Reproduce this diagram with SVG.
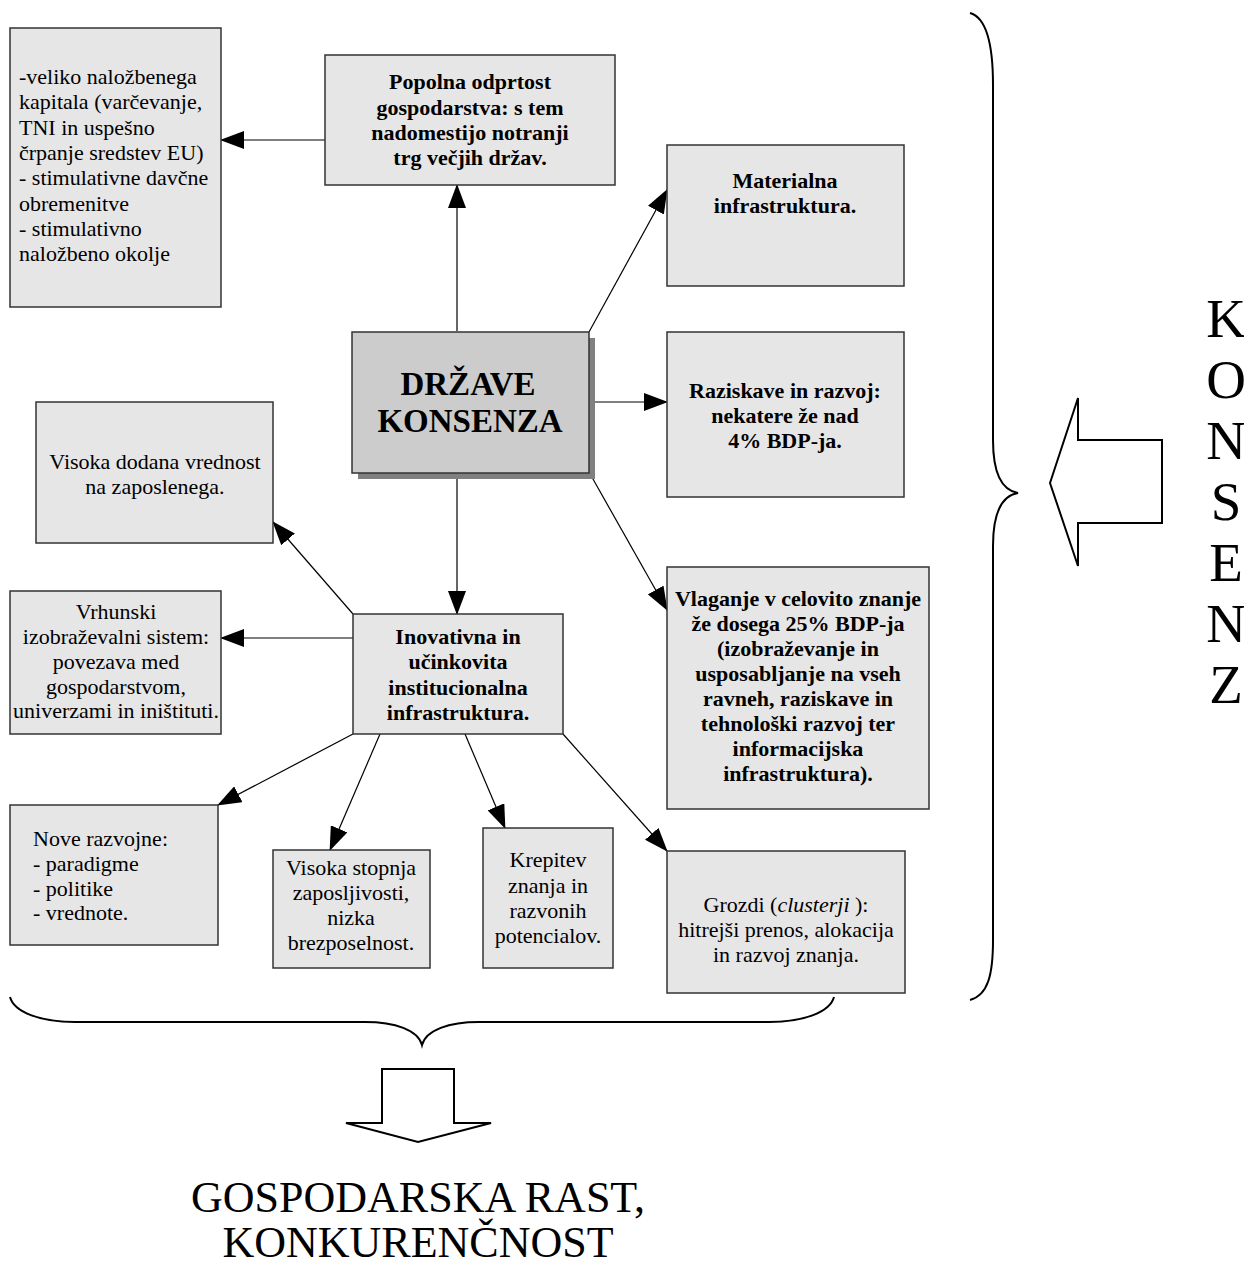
<svg xmlns="http://www.w3.org/2000/svg" width="1244" height="1266" viewBox="0 0 1244 1266">
<defs>
<marker id="ah" markerUnits="userSpaceOnUse" markerWidth="24" markerHeight="18" viewBox="0 0 24 18" refX="23" refY="9" orient="auto">
<path d="M0,0 L24,9 L0,18 Z" fill="#000"/>
</marker>
</defs>
<style>
.box{fill:#e6e6e6;stroke:#333;stroke-width:1.5}
.t{font-family:"Liberation Serif","Times New Roman",serif;font-size:22px;fill:#000}
.b{font-weight:bold}
.c{text-anchor:middle}
.k{font-size:55px}
.con line{stroke:#000;stroke-width:1.2;marker-end:url(#ah)}
.shape{fill:none;stroke:#000;stroke-width:2}
</style>
<rect width="1244" height="1266" fill="#fff"/>

<g id="connectors" class="con">
<line x1="325" y1="140" x2="221" y2="140"/>
<line x1="457" y1="331" x2="457" y2="185"/>
<line x1="589" y1="332" x2="667" y2="190"/>
<line x1="589" y1="402" x2="667" y2="402"/>
<line x1="589" y1="472" x2="667" y2="610"/>
<line x1="457" y1="472" x2="457" y2="614"/>
<line x1="353" y1="614" x2="273" y2="522"/>
<line x1="353" y1="638" x2="221" y2="638"/>
<line x1="353" y1="734" x2="218" y2="805"/>
<line x1="380" y1="734" x2="330" y2="850"/>
<line x1="465" y1="734" x2="505" y2="828"/>
<line x1="563" y1="734" x2="667" y2="851"/>
</g>

<g id="n-kapital">
<rect class="box" x="10" y="28" width="211" height="279"/>
<text class="t" x="19" y="84">-veliko naložbenega</text>
<text class="t" x="19" y="109">kapitala (varčevanje,</text>
<text class="t" x="19" y="135">TNI in uspešno</text>
<text class="t" x="19" y="160">črpanje sredstev EU)</text>
<text class="t" x="19" y="185">- stimulativne davčne</text>
<text class="t" x="19" y="211">obremenitve</text>
<text class="t" x="19" y="236">- stimulativno</text>
<text class="t" x="19" y="261">naložbeno okolje</text>
</g>

<g id="n-popolna">
<rect class="box" x="325" y="55" width="290" height="130"/>
<text class="t b c" x="470" y="89">Popolna odprtost</text>
<text class="t b c" x="470" y="115">gospodarstva: s tem</text>
<text class="t b c" x="470" y="140">nadomestijo notranji</text>
<text class="t b c" x="470" y="165">trg večjih držav.</text>
</g>

<g id="n-drzave">
<rect x="358" y="338" width="237" height="141" fill="#808080"/>
<rect x="352" y="332" width="237" height="141" fill="#cccccc" stroke="#333" stroke-width="1.5"/>
<text class="t b c" x="468" y="395" style="font-size:33px">DRŽAVE</text>
<text class="t b c" x="470" y="432" style="font-size:33px">KONSENZA</text>
</g>

<g id="n-materialna">
<rect class="box" x="667" y="145" width="237" height="141"/>
<text class="t b c" x="785" y="188">Materialna</text>
<text class="t b c" x="785" y="213">infrastruktura.</text>
</g>

<g id="n-raziskave">
<rect class="box" x="667" y="332" width="237" height="165"/>
<text class="t b c" x="785" y="398">Raziskave in razvoj:</text>
<text class="t b c" x="785" y="423">nekatere že nad</text>
<text class="t b c" x="785" y="448">4% BDP-ja.</text>
</g>

<g id="n-vlaganje">
<rect class="box" x="667" y="567" width="262" height="242"/>
<text class="t b c" x="798" y="606">Vlaganje v celovito znanje</text>
<text class="t b c" x="798" y="631">že dosega 25% BDP-ja</text>
<text class="t b c" x="798" y="656">(izobraževanje in</text>
<text class="t b c" x="798" y="681">usposabljanje na vseh</text>
<text class="t b c" x="798" y="706">ravneh, raziskave in</text>
<text class="t b c" x="798" y="731">tehnološki razvoj ter</text>
<text class="t b c" x="798" y="756">informacijska</text>
<text class="t b c" x="798" y="781">infrastruktura).</text>
</g>

<g id="n-visoka-dodana">
<rect class="box" x="36" y="402" width="237" height="141"/>
<text class="t c" x="155" y="469">Visoka dodana vrednost</text>
<text class="t c" x="155" y="494">na zaposlenega.</text>
</g>

<g id="n-vrhunski">
<rect class="box" x="10" y="591" width="211" height="143"/>
<text class="t c" x="116" y="619">Vrhunski</text>
<text class="t c" x="116" y="644">izobraževalni sistem:</text>
<text class="t c" x="116" y="669">povezava med</text>
<text class="t c" x="116" y="694">gospodarstvom,</text>
<text class="t c" x="116" y="718">univerzami in iništituti.</text>
</g>

<g id="n-inovativna">
<rect class="box" x="353" y="614" width="210" height="120"/>
<text class="t b c" x="458" y="644">Inovativna in</text>
<text class="t b c" x="458" y="669">učinkovita</text>
<text class="t b c" x="458" y="695">institucionalna</text>
<text class="t b c" x="458" y="720">infrastruktura.</text>
</g>

<g id="n-nove">
<rect class="box" x="10" y="805" width="208" height="140"/>
<text class="t" x="33" y="846">Nove razvojne:</text>
<text class="t" x="33" y="871">- paradigme</text>
<text class="t" x="33" y="896">- politike</text>
<text class="t" x="33" y="920">- vrednote.</text>
</g>

<g id="n-visoka-stopnja">
<rect class="box" x="273" y="850" width="157" height="118"/>
<text class="t c" x="351" y="875">Visoka stopnja</text>
<text class="t c" x="351" y="900">zaposljivosti,</text>
<text class="t c" x="351" y="925">nizka</text>
<text class="t c" x="351" y="950">brezposelnost.</text>
</g>

<g id="n-krepitev">
<rect class="box" x="483" y="828" width="130" height="140"/>
<text class="t c" x="548" y="867">Krepitev</text>
<text class="t c" x="548" y="893">znanja in</text>
<text class="t c" x="548" y="918">razvonih</text>
<text class="t c" x="548" y="943">potencialov.</text>
</g>

<g id="n-grozdi">
<rect class="box" x="667" y="851" width="238" height="142"/>
<text class="t c" x="786" y="912">Grozdi (<tspan font-style="italic">clusterji</tspan> ):</text>
<text class="t c" x="786" y="937">hitrejši prenos, alokacija</text>
<text class="t c" x="786" y="962">in razvoj znanja.</text>
</g>

<g id="brace-right">
<path class="shape" d="M970,13 C988,18 993,50 993,85 L993,440 C993,470 1000,490 1018,493 C1000,496 993,516 993,546 L993,940 C993,975 988,995 970,1000"/>
</g>
<g id="arrow-left">
<path class="shape" d="M1050,483 L1078,398 L1078,440 L1162,440 L1162,523 L1078,523 L1078,566 Z"/>
</g>
<g id="konsenz">
<text class="t c k" x="1226" y="337">K</text>
<text class="t c k" x="1226" y="398">O</text>
<text class="t c k" x="1226" y="459">N</text>
<text class="t c k" x="1226" y="520">S</text>
<text class="t c k" x="1226" y="581">E</text>
<text class="t c k" x="1226" y="642">N</text>
<text class="t c k" x="1226" y="703">Z</text>
</g>

<g id="brace-bottom">
<path class="shape" d="M10,997 C14,1012 40,1022 75,1022 L365,1022 C395,1022 418,1030 422,1045 C426,1030 449,1022 479,1022 L769,1022 C804,1022 830,1012 834,997"/>
</g>
<g id="arrow-down">
<path class="shape" d="M382,1069 L454,1069 L454,1123 L491,1123 L418,1142 L346,1123 L382,1123 Z"/>
</g>
<g id="result">
<text class="t c" x="418" y="1212" style="font-size:44px">GOSPODARSKA RAST,</text>
<text class="t c" x="418" y="1257" style="font-size:44px">KONKURENČNOST</text>
</g>
</svg>
